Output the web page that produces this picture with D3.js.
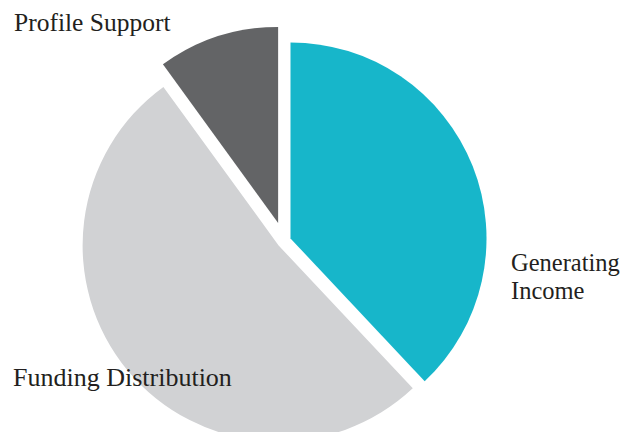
<!DOCTYPE html>
<html>
<head>
<meta charset="utf-8">
<script src="https://cdn.jsdelivr.net/npm/d3@7"></script>
<style>
  body { margin: 0; background: #fff; }
  text { font-family: "Liberation Serif", "DejaVu Serif", serif; fill: #231f20; }
</style>
</head>
<body>
<svg id="chart"></svg>
<script>
// slices, clockwise from 12 o'clock
const categories = ["Generating Income", "Funding Distribution", "Profile Support"];
const shares = [38, 52, 10];
const colors = ["#17b6ca", "#d1d2d4", "#636466"];

function drawPie(svgSelector, width, height) {
    const svg = d3.select(svgSelector)
        .attr("width", width)
        .attr("height", height)
        .attr("viewBox", `0 0 ${width} ${height}`);

    svg.selectAll("*").remove();

    const radius = 196;
    const cx = 284, cy = 241;

    // how far each slice is pulled out from the centre
    const explode = { "Profile Support": 19 };
    const defaultExplode = 7;

    const data = categories.map((c, i) => ({ name: c, value: shares[i] }));

    const color = d3.scaleOrdinal()
        .domain(categories)
        .range(colors);

    const pie = d3.pie()
        .value(d => d.value)
        .sort(null);

    const arc = d3.arc()
        .innerRadius(0)
        .outerRadius(radius);

    const g = svg.append("g")
        .attr("transform", `translate(${cx},${cy})`);

    g.selectAll(".slice")
        .data(pie(data))
        .enter().append("path")
        .attr("class", "slice")
        .attr("d", arc)
        .attr("fill", d => color(d.data.name))
        .attr("transform", d => {
            const mid = (d.startAngle + d.endAngle) / 2;
            const k = explode[d.data.name] ?? defaultExplode;
            return `translate(${Math.sin(mid) * k},${-Math.cos(mid) * k})`;
        });

    // labels
    const labels = svg.append("g").attr("font-size", "25.5px");

    labels.append("text")
        .attr("x", 14).attr("y", 31)
        .text("Profile Support");

    labels.append("text")
        .attr("x", 13).attr("y", 386)
        .attr("font-size", "26px")
        .text("Funding Distribution");

    const gi = labels.append("text")
        .attr("x", 511).attr("y", 271)
        .attr("font-size", "24.5px");
    gi.append("tspan").attr("x", 511).text("Generating");
    gi.append("tspan").attr("x", 511).attr("dy", 27.5).text("Income");
}

drawPie("#chart", 639, 432);
</script>
</body>
</html>
